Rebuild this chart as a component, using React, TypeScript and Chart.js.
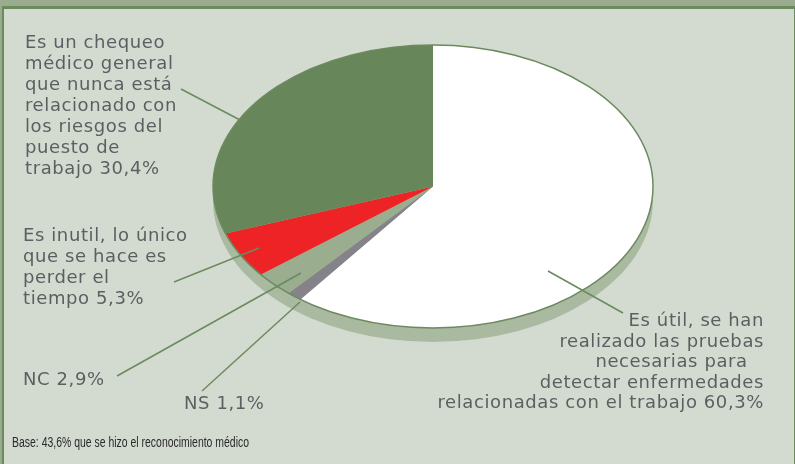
import React, { useEffect, useRef } from "react";
import { Chart, registerables } from "chart.js";

Chart.register(...registerables);

// ---------- data ----------
const categories = [
  "Es útil, se han realizado las pruebas necesarias para detectar enfermedades relacionadas con el trabajo",
  "NS",
  "NC",
  "Es inutil, lo único que se hace es perder el tiempo",
  "Es un chequeo médico general que nunca está relacionado con los riesgos del puesto de trabajo",
];
const values = [60.3, 1.1, 2.9, 5.3, 30.4];
const sliceColors = ["#ffffff", "#858289", "#9aad8f", "#ed2326", "#67865a"];
const labelLines = [
  ["Es útil, se han", "realizado las pruebas", "necesarias para ", "detectar enfermedades", "relacionadas con el trabajo 60,3%"],
  ["NS 1,1%"],
  ["NC 2,9%"],
  ["Es inutil, lo único", "que se hace es", "perder el", "tiempo 5,3%"],
  ["Es un chequeo", "médico general", "que nunca está", "relacionado con", "los riesgos del", "puesto de", "trabajo 30,4%"],
];
const baseNote = "Base: 43,6% que se hizo el reconocimiento médico";

// ---------- layout / style ----------
const W = 795;
const H = 464;
const PIE = { cy: 186.5, ry: 141.5, depth: 14 };
const WALL = "#a9baa1";
const EDGE = "#6b8a5e";
const TEXT = "#5c5f62";
const FONT = "18px 'DejaVu Sans', Verdana, sans-serif";
const LETTER_SPACING = "0.6px";

type Lay = { x: number; y: number; lh: number; align: CanvasTextAlign; dx?: number[]; line: number[] };
const labelLayout: Lay[] = [
  { x: 764, y: 326, lh: 20.5, align: "right", dx: [0, 0, -10, 0, 0], line: [548, 271, 623, 313] },
  { x: 184, y: 409, lh: 21, align: "left", line: [202, 391, 300, 302] },
  { x: 23, y: 385, lh: 21, align: "left", line: [117, 376, 301, 273] },
  { x: 23, y: 241, lh: 21, align: "left", line: [174, 282, 259, 248] },
  { x: 25, y: 48, lh: 21, align: "left", line: [181, 89, 240, 120] },
];
const NOTE = { x: 12, y: 447, width: 237, font: "14px 'Liberation Sans Narrow', 'Liberation Sans', Arial, sans-serif", color: "#2a2a2a" };

const pie3d = {
  id: "pie3d",
  beforeDatasetsDraw(chart: any) {
    const arc = chart.getDatasetMeta(0).data[0];
    const { x: cx, y: cy, outerRadius: r } = arc;
    const ctx = chart.ctx as CanvasRenderingContext2D;
    ctx.save();
    ctx.fillStyle = WALL;
    ctx.beginPath();
    ctx.ellipse(cx, PIE.cy + PIE.depth, r, PIE.ry, 0, 0, Math.PI * 2);
    ctx.fill();
    ctx.fillRect(cx - r, PIE.cy, 2 * r, PIE.depth);
    ctx.restore();
    ctx.save();
    ctx.translate(0, PIE.cy);
    ctx.scale(1, PIE.ry / r);
    ctx.translate(0, -cy);
  },
  afterDatasetsDraw(chart: any) {
    const ctx = chart.ctx as CanvasRenderingContext2D;
    ctx.restore();
    const arc = chart.getDatasetMeta(0).data[0];
    const { x: cx, outerRadius: r } = arc;
    ctx.save();
    ctx.strokeStyle = EDGE;
    ctx.lineWidth = 1.5;
    ctx.beginPath();
    ctx.ellipse(cx, PIE.cy, r, PIE.ry, 0, 0, Math.PI * 2);
    ctx.stroke();
    // leader lines
    ctx.lineWidth = 1.5;
    labelLayout.forEach((l) => {
      ctx.beginPath();
      ctx.moveTo(l.line[0], l.line[1]);
      ctx.lineTo(l.line[2], l.line[3]);
      ctx.stroke();
    });
    // labels
    ctx.fillStyle = TEXT;
    ctx.font = FONT;
    (ctx as any).letterSpacing = LETTER_SPACING;
    ctx.textBaseline = "alphabetic";
    labelLines.forEach((lines, i) => {
      const l = labelLayout[i];
      ctx.textAlign = l.align;
      lines.forEach((t, j) => {
        ctx.fillText(t, l.x + (l.dx ? l.dx[j] : 0), l.y + j * l.lh);
      });
    });
    // base note
    (ctx as any).letterSpacing = "0px";
    ctx.font = NOTE.font;
    ctx.fillStyle = NOTE.color;
    ctx.textAlign = "left";
    const w = ctx.measureText(baseNote).width;
    ctx.translate(NOTE.x, NOTE.y);
    ctx.scale(NOTE.width / w, 1);
    ctx.fillText(baseNote, 0, 0);
    ctx.restore();
  },
};

export default function App() {
  const ref = useRef<HTMLCanvasElement>(null);
  useEffect(() => {
    if (!ref.current) return;
    const chart = new Chart(ref.current, {
      type: "pie",
      data: {
        labels: categories,
        datasets: [
          {
            data: values,
            backgroundColor: sliceColors,
            borderWidth: 0,
          },
        ],
      },
      options: {
        responsive: false,
        animation: false,
        layout: { padding: { left: 213, right: 142, top: 12, bottom: 12 } },
        plugins: { legend: { display: false }, tooltip: { enabled: false } },
      },
      plugins: [pie3d],
    });
    return () => chart.destroy();
  }, []);
  return (
    <div style={{ position: "fixed", left: 0, top: 0, width: W, height: H, background: "#9aab8f", overflow: "hidden" }}>
      <div
        style={{
          position: "absolute",
          left: 2,
          top: 6,
          right: 0,
          bottom: 0,
          background: "#d3dbd0",
          borderTop: "3px solid #6b8a5e",
          borderLeft: "2px solid #6b8a5e",
          borderRight: "1px solid #6b8a5e",
        }}
      />
      <canvas ref={ref} width={W} height={H} style={{ position: "absolute", left: 0, top: 0, width: W, height: H }} />
    </div>
  );
}
